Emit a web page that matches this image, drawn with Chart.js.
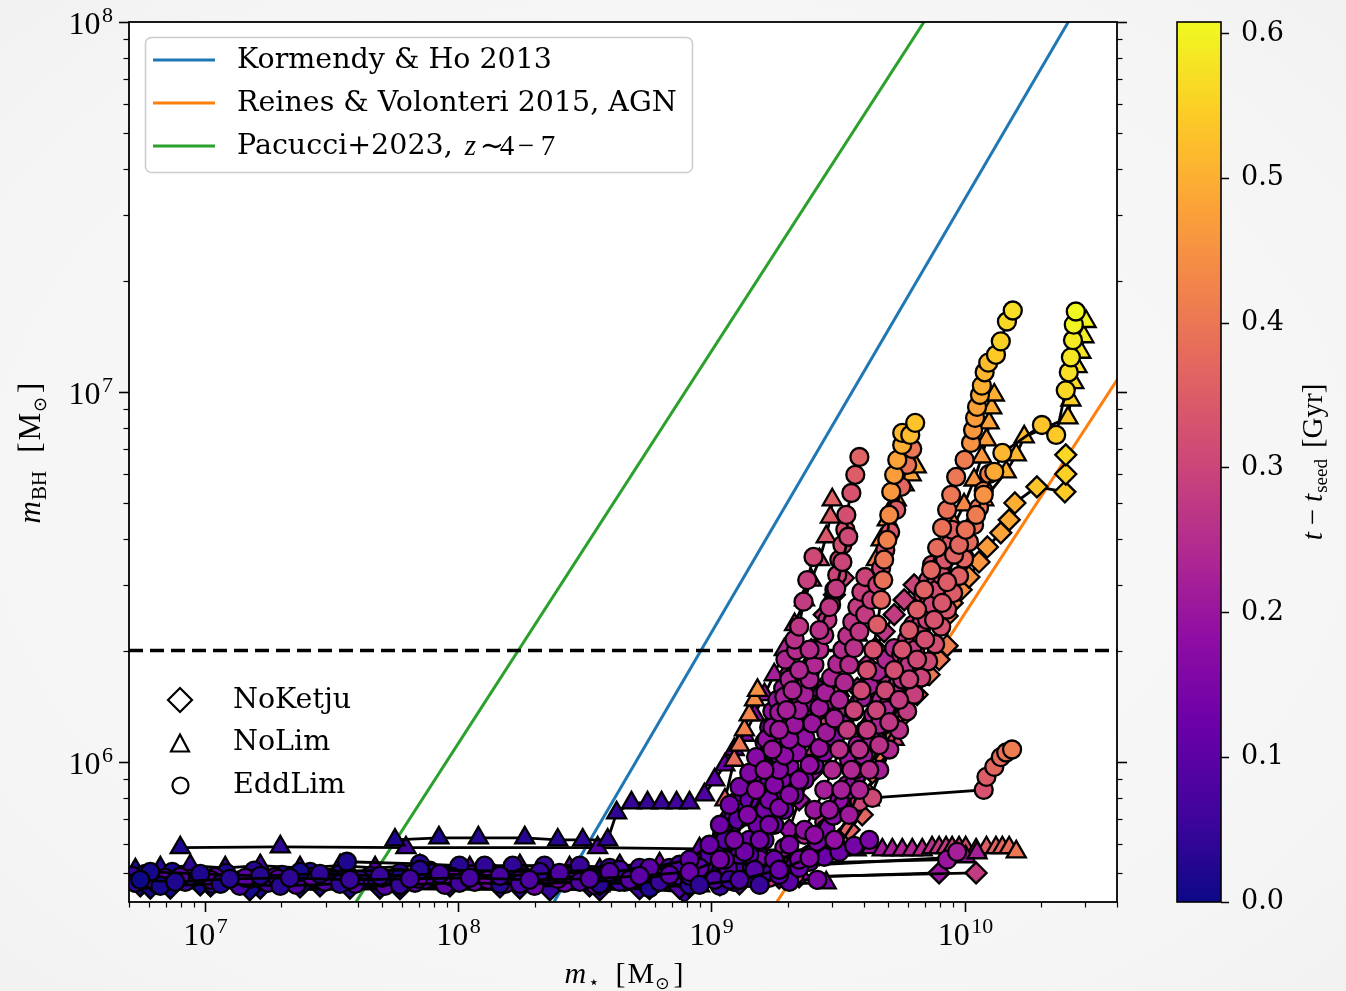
<!DOCTYPE html>
<html>
<head>
<meta charset="utf-8">
<title>Black hole mass vs stellar mass</title>
<script src="https://cdn.jsdelivr.net/npm/chart.js@4.4.1/dist/chart.umd.min.js"></script>
<style>
html,body{margin:0;padding:0;}
body{width:1346px;height:991px;overflow:hidden;background:radial-gradient(ellipse 80% 80% at 50% 50%, #fbfbfb 0%, #f5f5f5 70%, #efefef 100%);}
canvas{position:absolute;left:0;top:0;}
</style>
</head>
<body>
<canvas id="chart" width="1346" height="991"></canvas>
<script>
// ---------------- axes ----------------
const xRange = [5e6, 4e10];
const yRange = [4.18e5, 1e8];
const xMajorTicks = [1e7, 1e8, 1e9, 1e10];
const yMajorTicks = [1e6, 1e7, 1e8];
const colorTicks = [0.0, 0.1, 0.2, 0.3, 0.4, 0.5, 0.6];
const tMax = 0.608;

// ---------------- scaling relations (end points) ----------------
const kormendyX = [1e8, 3e10];
const kormendyY = [1.51e5, 1.20e8];
const reinesX = [1e9, 1e11];
const reinesY = [2.24e5, 2.82e7];
const pacucciX = [1e7, 1e10];
const pacucciY = [9.77e4, 1.48e8];
const thresholdX = [5e6, 4e10];
const thresholdY = [2e6, 2e6];

// ---------------- EddLim (circles) ----------------
const edd1_mstar = [5.54e6, 7.61e6, 1.25e7, 2.16e7, 3.73e7, 6.44e7, 1.11e8, 1.91e8, 3.30e8, 5.20e8, 8.19e8, 1.08e9, 1.23e9, 1.39e9, 1.50e9, 1.62e9, 1.74e9, 1.85e9, 1.98e9, 2.09e9, 2.22e9, 2.44e9, 2.67e9, 2.92e9, 3.11e9, 3.29e9, 3.47e9, 3.41e9, 3.57e9, 3.70e9, 3.84e9];
const edd1_mbh   = [4.80e5, 4.74e5, 4.83e5, 4.86e5, 4.80e5, 4.83e5, 4.86e5, 4.80e5, 4.83e5, 4.92e5, 5.04e5, 5.44e5, 6.15e5, 7.19e5, 8.40e5, 9.51e5, 1.08e6, 1.22e6, 1.38e6, 1.56e6, 1.77e6, 2.01e6, 2.27e6, 2.62e6, 2.94e6, 3.47e6, 4.06e6, 4.65e6, 5.33e6, 5.97e6, 6.67e6];
const edd1_t     = [0.00, 0.02, 0.03, 0.04, 0.05, 0.06, 0.07, 0.08, 0.09, 0.10, 0.12, 0.14, 0.15, 0.16, 0.18, 0.19, 0.20, 0.21, 0.22, 0.23, 0.24, 0.25, 0.26, 0.27, 0.28, 0.30, 0.31, 0.32, 0.33, 0.35, 0.36];

const edd2_mstar = [6.07e6, 9.56e6, 1.65e7, 2.84e7, 4.90e7, 8.45e7, 1.46e8, 2.51e8, 3.96e8, 5.69e8, 8.19e8, 9.82e8, 1.08e9, 1.18e9, 1.29e9, 1.41e9, 1.50e9, 1.65e9, 1.74e9, 1.85e9, 1.94e9, 2.03e9, 1.96e9, 2.16e9, 2.13e9, 2.22e9, 2.31e9, 2.39e9, 2.53e9];
const edd2_mbh   = [5.04e5, 4.98e5, 4.92e5, 4.98e5, 4.92e5, 4.98e5, 4.92e5, 5.01e5, 5.04e5, 5.17e5, 5.44e5, 5.97e5, 6.76e5, 7.65e5, 8.56e5, 9.34e5, 1.03e6, 1.15e6, 1.24e6, 1.36e6, 1.50e6, 1.67e6, 1.89e6, 2.00e6, 2.14e6, 2.32e6, 2.71e6, 3.10e6, 3.58e6];
const edd2_t     = [0.01, 0.02, 0.03, 0.04, 0.05, 0.06, 0.07, 0.08, 0.09, 0.10, 0.11, 0.12, 0.13, 0.14, 0.15, 0.16, 0.17, 0.19, 0.20, 0.21, 0.22, 0.23, 0.24, 0.25, 0.26, 0.27, 0.28, 0.29, 0.31];

const edd3_mstar = [6.65e6, 1.15e7, 1.98e7, 3.41e7, 5.88e7, 1.01e8, 1.75e8, 3.02e8, 4.75e8, 6.83e8, 8.97e8, 1.13e9, 1.35e9, 1.55e9, 1.69e9, 1.85e9, 2.03e9, 2.22e9, 2.44e9, 2.67e9, 2.84e9, 3.06e9, 3.20e9, 3.35e9, 3.50e9, 3.66e9, 3.84e9, 4.05e9, 4.28e9, 4.52e9, 4.68e9, 4.86e9, 5.08e9, 5.37e9, 5.62e9, 5.93e9, 6.21e9];
const edd3_mbh   = [4.62e5, 4.68e5, 4.62e5, 4.68e5, 4.65e5, 4.71e5, 4.68e5, 4.74e5, 4.80e5, 4.95e5, 5.17e5, 5.44e5, 5.71e5, 6.15e5, 6.76e5, 7.51e5, 8.14e5, 8.94e5, 9.81e5, 1.09e6, 1.20e6, 1.31e6, 1.47e6, 1.64e6, 1.83e6, 2.03e6, 2.25e6, 2.50e6, 2.74e6, 3.01e6, 3.34e6, 3.74e6, 4.18e6, 4.80e6, 5.54e6, 6.35e6, 7.01e6];
const edd3_t     = [0.01, 0.02, 0.03, 0.04, 0.05, 0.06, 0.07, 0.08, 0.09, 0.10, 0.11, 0.12, 0.13, 0.14, 0.15, 0.16, 0.17, 0.18, 0.19, 0.20, 0.21, 0.22, 0.23, 0.24, 0.25, 0.26, 0.27, 0.28, 0.29, 0.30, 0.31, 0.32, 0.34, 0.35, 0.37, 0.39, 0.40];

const edd4_mstar = [1.18e9, 1.48e9, 1.77e9, 2.03e9, 2.33e9, 2.55e9, 2.79e9, 3.00e9, 3.20e9, 3.44e9, 3.66e9, 3.91e9, 4.12e9, 4.36e9, 4.52e9, 4.68e9, 4.77e9, 4.81e9, 4.95e9, 5.04e9, 5.13e9, 5.27e9, 5.42e9, 5.67e9, 5.67e9, 6.10e9, 6.38e9];
const edd4_mbh   = [4.80e5, 5.11e5, 5.44e5, 5.97e5, 6.55e5, 7.42e5, 8.40e5, 9.51e5, 1.08e6, 1.22e6, 1.38e6, 1.56e6, 1.77e6, 2.01e6, 2.35e6, 2.74e6, 3.10e6, 3.52e6, 3.98e6, 4.65e6, 5.37e6, 5.97e6, 6.55e6, 7.19e6, 7.75e6, 7.65e6, 8.25e6];
const edd4_t     = [0.06, 0.09, 0.12, 0.15, 0.18, 0.20, 0.22, 0.24, 0.26, 0.28, 0.30, 0.31, 0.32, 0.33, 0.35, 0.37, 0.39, 0.40, 0.42, 0.44, 0.46, 0.47, 0.48, 0.50, 0.51, 0.52, 0.53];

const edd5_mstar = [1.55e9, 1.85e9, 2.22e9, 2.55e9, 2.92e9, 3.26e9, 3.57e9, 3.84e9, 4.12e9, 4.48e9, 4.86e9, 5.27e9, 5.67e9, 6.04e9, 6.49e9, 6.92e9, 7.38e9, 7.79e9, 8.15e9, 8.53e9, 8.85e9, 9.26e9, 1.00e10, 1.06e10, 1.08e10, 1.10e10, 1.12e10, 1.15e10, 1.17e10, 1.20e10, 1.24e10, 1.33e10, 1.39e10, 1.47e10, 1.55e10];
const edd5_mbh   = [4.65e5, 4.95e5, 5.44e5, 6.35e5, 7.42e5, 8.40e5, 9.51e5, 1.08e6, 1.22e6, 1.38e6, 1.56e6, 1.77e6, 2.01e6, 2.27e6, 2.58e6, 2.92e6, 3.30e6, 3.79e6, 4.29e6, 4.80e6, 5.27e6, 5.89e6, 6.55e6, 7.28e6, 7.89e6, 8.51e6, 9.11e6, 9.81e6, 1.04e7, 1.13e7, 1.20e7, 1.26e7, 1.37e7, 1.55e7, 1.66e7];
const edd5_t     = [0.05, 0.10, 0.15, 0.18, 0.20, 0.22, 0.24, 0.26, 0.28, 0.30, 0.31, 0.32, 0.33, 0.34, 0.35, 0.36, 0.37, 0.38, 0.39, 0.39, 0.40, 0.40, 0.41, 0.45, 0.46, 0.47, 0.48, 0.49, 0.50, 0.51, 0.52, 0.54, 0.55, 0.56, 0.57];

const edd6_mstar = [8.97e8, 1.29e9, 1.85e9, 2.44e9, 3.06e9, 3.50e9, 3.84e9, 4.20e9, 4.60e9, 5.04e9, 5.51e9, 6.04e9, 6.49e9, 6.98e9, 7.58e9, 8.15e9, 8.53e9, 9.09e9, 9.51e9, 1.01e10, 1.11e10, 1.19e10, 1.31e10, 1.41e10, 2.02e10, 2.30e10, 2.51e10, 2.58e10, 2.63e10, 2.68e10, 2.70e10, 2.75e10];
const edd6_mbh   = [4.65e5, 4.80e5, 5.11e5, 5.50e5, 6.15e5, 7.19e5, 8.40e5, 9.51e5, 1.11e6, 1.28e6, 1.47e6, 1.67e6, 1.89e6, 2.14e6, 2.42e6, 2.69e6, 3.06e6, 3.63e6, 3.86e6, 4.24e6, 4.65e6, 5.27e6, 6.08e6, 6.84e6, 8.14e6, 7.65e6, 1.01e7, 1.13e7, 1.24e7, 1.38e7, 1.52e7, 1.65e7];
const edd6_t     = [0.04, 0.08, 0.12, 0.16, 0.19, 0.21, 0.23, 0.25, 0.26, 0.27, 0.28, 0.30, 0.31, 0.32, 0.33, 0.34, 0.35, 0.36, 0.37, 0.39, 0.41, 0.45, 0.49, 0.51, 0.53, 0.54, 0.56, 0.57, 0.58, 0.59, 0.60, 0.607];

const edd7_mstar = [5.88e7, 1.46e8, 3.62e8, 7.48e8, 1.18e9, 1.55e9, 1.94e9, 2.33e9, 2.79e9, 3.35e9, 3.84e9, 4.32e9, 1.19e10, 1.22e10, 1.31e10, 1.39e10, 1.46e10, 1.54e10];
const edd7_mbh   = [4.86e5, 4.92e5, 4.86e5, 4.92e5, 5.11e5, 5.44e5, 5.86e5, 6.35e5, 6.88e5, 7.42e5, 7.80e5, 7.99e5, 8.40e5, 9.11e5, 9.69e5, 1.03e6, 1.06e6, 1.08e6];
const edd7_t     = [0.02, 0.04, 0.06, 0.09, 0.12, 0.15, 0.20, 0.24, 0.27, 0.29, 0.30, 0.31, 0.33, 0.35, 0.37, 0.38, 0.39, 0.41];

const edd8_mstar = [2.37e7, 7.05e7, 2.10e8, 4.34e8, 7.48e8, 9.82e8, 1.13e9, 1.27e9, 1.41e9, 1.55e9, 1.69e9, 1.85e9, 2.03e9, 2.22e9, 2.44e9, 2.67e9, 2.92e9];
const edd8_mbh   = [5.04e5, 5.11e5, 5.04e5, 5.11e5, 5.27e5, 5.61e5, 6.15e5, 6.97e5, 7.89e5, 8.67e5, 9.51e5, 1.04e6, 1.13e6, 1.22e6, 1.30e6, 1.38e6, 1.47e6];
const edd8_t     = [0.01, 0.03, 0.05, 0.07, 0.08, 0.09, 0.10, 0.11, 0.12, 0.13, 0.14, 0.15, 0.16, 0.17, 0.18, 0.19, 0.20];

const edd9_mstar = [5.69e8, 8.19e8, 1.03e9, 1.23e9, 1.41e9, 1.62e9, 1.77e9, 1.94e9, 2.13e9, 2.33e9, 2.55e9, 2.79e9, 3.06e9, 3.35e9, 3.66e9, 3.94e9, 4.20e9, 4.52e9, 4.90e9, 5.27e9];
const edd9_mbh   = [4.56e5, 4.65e5, 4.86e5, 5.17e5, 5.61e5, 6.15e5, 6.76e5, 7.42e5, 8.14e5, 8.94e5, 9.81e5, 1.06e6, 1.16e6, 1.26e6, 1.37e6, 1.49e6, 1.61e6, 1.75e6, 1.89e6, 2.03e6];
const edd9_t     = [0.02, 0.04, 0.06, 0.08, 0.10, 0.11, 0.12, 0.13, 0.14, 0.15, 0.16, 0.17, 0.18, 0.19, 0.20, 0.21, 0.22, 0.23, 0.24, 0.25];

const edd10_mstar = [3.62e8, 6.24e8, 8.19e8, 9.38e8, 1.03e9, 1.10e9, 1.18e9, 1.25e9, 1.34e9, 1.44e9, 1.52e9, 1.62e9, 1.69e9, 1.74e9, 1.82e9, 1.92e9, 2.03e9];
const edd10_mbh   = [4.68e5, 4.74e5, 4.92e5, 5.27e5, 5.78e5, 6.35e5, 7.06e5, 7.80e5, 8.50e5, 9.40e5, 1.03e6, 1.13e6, 1.24e6, 1.37e6, 1.47e6, 1.58e6, 1.72e6];
const edd10_t     = [0.03, 0.05, 0.07, 0.09, 0.10, 0.11, 0.12, 0.13, 0.14, 0.15, 0.16, 0.17, 0.18, 0.19, 0.20, 0.21, 0.22];

const edd11_mstar = [1.46e8, 4.34e8, 8.97e8, 1.29e9, 1.69e9, 8.53e9, 9.34e9];
const edd11_mbh   = [4.68e5, 4.74e5, 4.86e5, 5.11e5, 5.30e5, 5.44e5, 5.71e5];
const edd11_t     = [0.03, 0.06, 0.09, 0.12, 0.15, 0.20, 0.22];

const edd12_mstar = [3.62e8, 8.97e8, 2.62e9];
const edd12_mbh   = [4.92e5, 4.80e5, 4.80e5];
const edd12_t     = [0.08, 0.12, 0.15];

const edd13_mstar = [1.29e9, 1.69e9, 2.13e9];
const edd13_mbh   = [4.80e5, 4.86e5, 4.95e5];
const edd13_t     = [0.20, 0.27, 0.33];

const edd14_mstar = [5.15e6, 5.80e6, 6.95e6, 8.73e6, 1.09e7, 1.50e7, 1.89e7];
const edd14_mbh   = [4.92e5, 4.80e5, 4.86e5, 4.83e5, 4.89e5, 4.83e5, 4.89e5];
const edd14_t     = [0.05, 0.07, 0.09, 0.10, 0.11, 0.12, 0.12];

const edd15_mstar = [2.37e7, 3.11e7, 4.09e7, 5.62e7, 7.38e7, 9.69e7, 1.22e8, 1.67e8, 2.19e8, 2.88e8];
const edd15_mbh   = [4.80e5, 4.86e5, 4.80e5, 4.86e5, 4.80e5, 4.86e5, 4.92e5, 4.86e5, 4.89e5, 4.95e5];
const edd15_t     = [0.02, 0.04, 0.06, 0.07, 0.08, 0.09, 0.10, 0.11, 0.12, 0.13];

const edd16_mstar = [3.63e7, 7.05e7, 1.01e8, 1.27e8, 1.64e8, 2.19e8, 3.02e8, 3.96e8, 5.20e8];
const edd16_mbh   = [5.37e5, 5.30e5, 5.24e5, 5.24e5, 5.24e5, 5.24e5, 5.24e5, 5.17e5, 5.17e5];
const edd16_t     = [0.02, 0.03, 0.03, 0.04, 0.04, 0.05, 0.05, 0.06, 0.07];

const edd17_mstar = [5.30e6, 6.53e6, 8.34e6, 1.07e7, 1.37e7, 1.77e7, 2.29e7, 2.97e7, 3.91e7, 5.13e7, 6.74e7, 8.85e7, 1.16e8, 1.53e8, 2.00e8, 2.63e8, 3.46e8, 4.54e8, 5.96e8, 7.82e8, 9.82e8];
const edd17_mbh   = [4.71e5, 4.65e5, 4.74e5, 4.68e5, 4.62e5, 4.71e5, 4.65e5, 4.74e5, 4.68e5, 4.62e5, 4.71e5, 4.65e5, 4.74e5, 4.68e5, 4.62e5, 4.71e5, 4.65e5, 4.74e5, 4.68e5, 4.80e5, 4.98e5];
const edd17_t     = [0.04, 0.05, 0.06, 0.06, 0.07, 0.07, 0.08, 0.08, 0.09, 0.09, 0.10, 0.10, 0.11, 0.11, 0.12, 0.12, 0.13, 0.13, 0.14, 0.15, 0.16];

const edd18_mstar = [5.80e6, 7.41e6, 9.38e6, 1.21e7, 1.56e7, 2.01e7, 2.60e7, 3.41e7, 4.48e7, 5.88e7, 7.72e7, 1.01e8, 1.33e8, 1.75e8, 2.30e8, 3.02e8, 3.96e8, 5.20e8, 6.83e8, 8.97e8];
const edd18_mbh   = [4.98e5, 5.04e5, 4.92e5, 5.01e5, 5.08e5, 4.95e5, 5.04e5, 4.98e5, 4.92e5, 5.01e5, 5.08e5, 4.95e5, 5.04e5, 4.98e5, 4.92e5, 5.01e5, 5.08e5, 5.11e5, 5.17e5, 5.24e5];
const edd18_t     = [0.01, 0.01, 0.02, 0.02, 0.03, 0.03, 0.03, 0.04, 0.04, 0.04, 0.05, 0.05, 0.05, 0.06, 0.06, 0.06, 0.07, 0.07, 0.08, 0.09];

const edd19_mstar = [6.07e6, 7.97e6, 1.05e7, 1.44e7, 1.94e7, 2.64e7, 3.66e7, 4.99e7, 6.92e7, 9.43e7, 1.31e8, 1.78e8, 2.47e8, 3.36e8, 4.66e8, 6.35e8, 8.57e8, 1.13e9, 1.41e9];
const edd19_mbh   = [4.83e5, 4.89e5, 4.80e5, 4.86e5, 4.83e5, 4.89e5, 4.80e5, 4.86e5, 4.83e5, 4.89e5, 4.80e5, 4.86e5, 4.83e5, 4.89e5, 4.80e5, 4.86e5, 4.92e5, 5.11e5, 5.44e5];
const edd19_t     = [0.08, 0.09, 0.09, 0.10, 0.10, 0.11, 0.11, 0.12, 0.12, 0.13, 0.13, 0.14, 0.14, 0.15, 0.15, 0.16, 0.16, 0.17, 0.18];

const edd20_mstar = [1.03e9, 1.16e9, 1.29e9, 1.41e9, 1.52e9, 1.63e9, 1.76e9, 1.89e9, 2.03e9, 2.18e9, 2.35e9, 2.50e9, 2.67e9, 2.82e9, 2.97e9, 3.14e9, 3.29e9, 3.44e9, 3.60e9, 3.77e9, 3.91e9, 4.05e9];
const edd20_mbh   = [4.80e5, 5.17e5, 5.61e5, 6.15e5, 6.76e5, 7.42e5, 8.14e5, 8.94e5, 9.75e5, 1.06e6, 1.16e6, 1.27e6, 1.40e6, 1.54e6, 1.69e6, 1.84e6, 2.01e6, 2.19e6, 2.39e6, 2.62e6, 2.88e6, 3.16e6];
const edd20_t     = [0.08, 0.10, 0.11, 0.12, 0.13, 0.14, 0.15, 0.16, 0.17, 0.18, 0.19, 0.20, 0.21, 0.22, 0.23, 0.24, 0.25, 0.26, 0.27, 0.28, 0.29, 0.30];

const edd21_mstar = [8.97e8, 9.64e8, 1.04e9, 1.10e9, 1.18e9, 1.25e9, 1.34e9, 1.41e9, 1.49e9, 1.57e9, 1.66e9, 1.76e9, 1.85e9, 1.96e9, 2.07e9, 2.18e9, 2.31e9, 2.44e9];
const edd21_mbh   = [4.86e5, 5.24e5, 5.64e5, 6.08e5, 6.55e5, 7.06e5, 7.60e5, 8.19e5, 8.83e5, 9.51e5, 1.03e6, 1.10e6, 1.19e6, 1.28e6, 1.38e6, 1.49e6, 1.61e6, 1.73e6];
const edd21_t     = [0.05, 0.07, 0.08, 0.09, 0.10, 0.11, 0.12, 0.13, 0.14, 0.15, 0.16, 0.17, 0.18, 0.19, 0.20, 0.21, 0.22, 0.23];

const edd22_mstar = [2.03e9, 2.22e9, 2.44e9, 2.62e9, 2.82e9, 3.03e9, 3.26e9, 3.50e9, 3.73e9, 3.98e9, 4.24e9, 4.52e9, 4.81e9, 5.13e9, 5.47e9, 5.83e9, 6.15e9, 6.49e9];
const edd22_mbh   = [4.74e5, 5.17e5, 5.61e5, 6.08e5, 6.59e5, 7.15e5, 7.75e5, 8.40e5, 9.11e5, 9.88e5, 1.07e6, 1.16e6, 1.26e6, 1.37e6, 1.48e6, 1.61e6, 1.74e6, 1.89e6];
const edd22_t     = [0.10, 0.12, 0.14, 0.15, 0.16, 0.17, 0.18, 0.19, 0.20, 0.21, 0.22, 0.23, 0.24, 0.25, 0.26, 0.27, 0.28, 0.29];

const edd23_mstar = [1.08e9, 1.23e9, 1.41e9, 1.62e9, 1.85e9, 2.13e9, 2.44e9, 2.79e9, 3.20e9, 3.66e9, 4.20e9];
const edd23_mbh   = [4.62e5, 4.74e5, 4.86e5, 4.98e5, 5.11e5, 5.24e5, 5.37e5, 5.54e5, 5.71e5, 5.93e5, 6.15e5];
const edd23_t     = [0.05, 0.06, 0.07, 0.08, 0.09, 0.10, 0.11, 0.12, 0.13, 0.14, 0.15];

const edd24_mstar = [1.69e9, 1.77e9, 1.85e9, 1.94e9, 2.03e9, 2.13e9, 2.22e9, 2.33e9, 2.44e9, 2.55e9, 2.67e9, 2.79e9, 2.87e9, 2.97e9, 3.06e9, 3.14e9, 3.20e9, 3.29e9, 3.38e9];
const edd24_mbh   = [7.89e5, 8.67e5, 9.51e5, 1.04e6, 1.15e6, 1.26e6, 1.38e6, 1.52e6, 1.67e6, 1.83e6, 2.01e6, 2.20e6, 2.42e6, 2.66e6, 2.92e6, 3.20e6, 3.52e6, 3.86e6, 4.24e6];
const edd24_t     = [0.15, 0.16, 0.17, 0.18, 0.19, 0.20, 0.21, 0.22, 0.23, 0.24, 0.25, 0.26, 0.27, 0.28, 0.29, 0.30, 0.31, 0.32, 0.33];

const edd25_mstar = [3.20e9, 3.44e9, 3.70e9, 3.98e9, 4.28e9, 4.60e9, 4.95e9, 5.32e9, 5.67e9, 6.04e9, 6.38e9, 6.74e9, 7.11e9, 7.44e9, 7.79e9, 8.08e9, 8.38e9, 8.69e9, 8.93e9];
const edd25_mbh   = [7.89e5, 8.67e5, 9.51e5, 1.04e6, 1.15e6, 1.26e6, 1.38e6, 1.52e6, 1.67e6, 1.83e6, 2.01e6, 2.20e6, 2.42e6, 2.66e6, 2.92e6, 3.20e6, 3.52e6, 3.86e6, 4.24e6];
const edd25_t     = [0.18, 0.19, 0.20, 0.21, 0.22, 0.23, 0.24, 0.25, 0.26, 0.27, 0.28, 0.29, 0.30, 0.31, 0.32, 0.33, 0.34, 0.35, 0.36];

const edd26_mstar = [4.60e9, 5.04e9, 5.51e9, 5.93e9, 6.32e9, 6.74e9, 7.18e9, 7.65e9, 8.08e9, 8.53e9, 9.01e9, 9.51e9, 9.95e9, 1.04e10, 1.09e10, 1.14e10, 1.19e10, 1.25e10];
const edd26_mbh   = [9.51e5, 1.08e6, 1.22e6, 1.37e6, 1.52e6, 1.69e6, 1.87e6, 2.08e6, 2.32e6, 2.58e6, 2.86e6, 3.18e6, 3.54e6, 3.93e6, 4.37e6, 4.86e6, 5.40e6, 6.00e6];
const edd26_t     = [0.22, 0.24, 0.26, 0.28, 0.29, 0.30, 0.31, 0.32, 0.33, 0.34, 0.35, 0.36, 0.37, 0.38, 0.39, 0.40, 0.41, 0.42];

const edd27_mstar = [3.50e9, 3.77e9, 4.05e9, 4.36e9, 4.68e9, 4.99e9, 5.32e9, 5.62e9, 5.93e9, 6.27e9, 6.56e9, 6.86e9, 7.18e9, 7.44e9];
const edd27_mbh   = [1.01e6, 1.11e6, 1.22e6, 1.34e6, 1.47e6, 1.61e6, 1.77e6, 1.95e6, 2.14e6, 2.35e6, 2.58e6, 2.83e6, 3.10e6, 3.41e6];
const edd27_t     = [0.20, 0.21, 0.22, 0.23, 0.24, 0.25, 0.26, 0.27, 0.28, 0.29, 0.30, 0.31, 0.32, 0.33];

// ---------------- NoLim (triangles) ----------------
const nolim1_mstar = [7.97e6, 1.98e7, 6.21e7, 3.55e8, 8.97e8, 1.08e9, 1.55e9, 2.03e9, 2.67e9, 3.20e9, 3.73e9, 4.28e9, 4.73e9, 5.18e9, 5.67e9, 6.21e9, 6.80e9, 7.44e9, 7.93e9, 8.45e9, 8.93e9, 9.51e9, 1.01e10, 1.11e10, 1.22e10, 1.33e10, 1.41e10, 1.50e10, 1.60e10];
const nolim1_mbh   = [5.86e5, 5.89e5, 5.86e5, 5.86e5, 5.82e5, 5.78e5, 5.78e5, 5.78e5, 5.78e5, 5.78e5, 5.78e5, 5.86e5, 5.78e5, 5.78e5, 5.78e5, 5.78e5, 5.78e5, 5.86e5, 5.86e5, 5.86e5, 5.86e5, 5.86e5, 5.86e5, 5.78e5, 5.86e5, 5.86e5, 5.86e5, 5.86e5, 5.71e5];
const nolim1_t     = [0.02, 0.04, 0.06, 0.09, 0.11, 0.12, 0.14, 0.15, 0.17, 0.18, 0.19, 0.20, 0.21, 0.22, 0.23, 0.24, 0.25, 0.26, 0.27, 0.28, 0.29, 0.30, 0.31, 0.33, 0.35, 0.36, 0.37, 0.38, 0.40];

const nolim2_mstar = [5.62e7, 8.38e7, 1.20e8, 1.83e8, 2.47e8, 3.10e8, 3.89e8, 4.22e8, 4.83e8, 5.59e8, 6.35e8, 7.28e8, 8.19e8, 9.38e8, 1.03e9, 1.13e9, 1.23e9, 1.35e9, 1.48e9, 1.62e9, 1.77e9, 1.94e9, 2.13e9, 2.33e9, 2.48e9, 2.67e9, 2.84e9, 2.95e9, 3.00e9];
const nolim2_mbh   = [6.15e5, 6.23e5, 6.23e5, 6.23e5, 6.15e5, 6.15e5, 6.15e5, 7.28e5, 7.75e5, 7.75e5, 7.75e5, 7.75e5, 7.75e5, 8.14e5, 8.94e5, 9.81e5, 1.08e6, 1.18e6, 1.34e6, 1.52e6, 1.72e6, 2.01e6, 2.35e6, 2.74e6, 3.10e6, 3.52e6, 4.06e6, 4.59e6, 5.11e6];
const nolim2_t     = [0.02, 0.02, 0.03, 0.03, 0.03, 0.04, 0.04, 0.04, 0.05, 0.05, 0.05, 0.06, 0.06, 0.08, 0.10, 0.12, 0.14, 0.16, 0.18, 0.20, 0.22, 0.24, 0.26, 0.28, 0.30, 0.32, 0.34, 0.35, 0.36];

const nolim3_mstar = [3.73e7, 1.22e8, 3.62e8, 8.19e8, 1.29e9, 1.69e9, 2.22e9, 2.55e9, 2.87e9, 3.20e9, 3.50e9, 3.77e9, 4.01e9, 4.28e9, 4.48e9, 4.68e9, 4.95e9, 5.37e9, 5.77e9, 6.15e9, 6.44e9];
const nolim3_mbh   = [5.04e5, 5.11e5, 5.11e5, 5.17e5, 5.78e5, 6.97e5, 8.94e5, 1.08e6, 1.30e6, 1.56e6, 1.89e6, 2.20e6, 2.58e6, 3.01e6, 3.52e6, 3.98e6, 4.51e6, 5.11e6, 5.61e6, 5.97e6, 6.27e6];
const nolim3_t     = [0.02, 0.04, 0.06, 0.08, 0.12, 0.18, 0.25, 0.28, 0.30, 0.32, 0.34, 0.36, 0.38, 0.40, 0.42, 0.43, 0.45, 0.46, 0.47, 0.48, 0.49];

const nolim4_mstar = [1.46e8, 5.69e8, 1.18e9, 1.85e9, 2.67e9, 3.35e9, 3.77e9, 4.20e9, 4.81e9, 5.51e9, 6.32e9, 6.92e9, 7.58e9, 8.30e9, 9.09e9, 9.95e9, 1.09e10, 1.17e10, 1.22e10, 1.25e10, 1.28e10, 1.31e10];
const nolim4_mbh   = [4.80e5, 4.86e5, 5.04e5, 5.37e5, 6.15e5, 7.89e5, 1.01e6, 1.30e6, 1.56e6, 1.89e6, 2.27e6, 2.74e6, 3.20e6, 3.74e6, 4.37e6, 4.95e6, 5.78e6, 6.67e6, 7.42e6, 8.25e6, 9.05e6, 9.81e6];
const nolim4_t     = [0.03, 0.06, 0.10, 0.15, 0.20, 0.25, 0.28, 0.30, 0.32, 0.34, 0.36, 0.38, 0.40, 0.41, 0.42, 0.43, 0.45, 0.46, 0.47, 0.48, 0.49, 0.50];

const nolim5_mstar = [3.62e8, 1.08e9, 2.03e9, 3.20e9, 4.20e9, 5.27e9, 6.61e9, 8.30e9, 9.95e9, 1.19e10, 1.46e10, 1.60e10, 1.72e10, 2.56e10, 2.63e10, 2.70e10, 2.78e10, 2.88e10, 2.96e10, 3.02e10];
const nolim5_mbh   = [4.62e5, 4.80e5, 5.17e5, 5.97e5, 7.89e5, 1.15e6, 1.67e6, 2.58e6, 3.74e6, 5.11e6, 6.08e6, 6.76e6, 7.56e6, 8.51e6, 9.51e6, 1.06e7, 1.17e7, 1.28e7, 1.41e7, 1.55e7];
const nolim5_t     = [0.03, 0.07, 0.12, 0.18, 0.24, 0.30, 0.34, 0.38, 0.42, 0.47, 0.50, 0.51, 0.52, 0.54, 0.55, 0.56, 0.57, 0.58, 0.59, 0.60];

const nolim6_mstar = [1.13e9, 1.23e9, 1.29e9, 1.35e9, 1.41e9, 1.48e9, 1.52e9];
const nolim6_mbh   = [7.89e5, 1.01e6, 1.11e6, 1.22e6, 1.34e6, 1.47e6, 1.56e6];
const nolim6_t     = [0.35, 0.38, 0.40, 0.42, 0.43, 0.44, 0.45];

const nolim7_mstar = [5.30e6, 6.65e6, 8.73e6, 1.20e7, 1.65e7, 2.37e7, 3.41e7, 4.69e7, 7.05e7, 1.11e8, 1.75e8, 2.75e8, 4.34e8, 6.24e8];
const nolim7_mbh   = [5.11e5, 5.17e5, 5.24e5, 5.17e5, 5.24e5, 5.17e5, 5.24e5, 5.17e5, 5.24e5, 5.17e5, 5.24e5, 5.17e5, 5.24e5, 5.30e5];
const nolim7_t     = [0.02, 0.03, 0.04, 0.05, 0.06, 0.07, 0.08, 0.09, 0.10, 0.11, 0.12, 0.13, 0.14, 0.15];

const nolim8_mstar = [8.97e8, 1.55e9, 1.01e10, 1.12e10];
const nolim8_mbh   = [5.04e5, 5.17e5, 5.54e5, 5.68e5];
const nolim8_t     = [0.10, 0.14, 0.20, 0.22];

const nolim9_mstar = [8.97e8, 2.84e9];
const nolim9_mbh   = [4.62e5, 4.71e5];
const nolim9_t     = [0.08, 0.14];

const nolim10_mstar = [9.38e8, 1.06e9, 1.18e9, 1.31e9, 1.45e9, 1.59e9, 1.74e9, 1.87e9, 2.09e9, 2.26e9, 2.48e9, 2.69e9];
const nolim10_mbh   = [5.04e5, 5.61e5, 6.23e5, 6.97e5, 7.75e5, 8.61e5, 9.51e5, 1.05e6, 1.16e6, 1.28e6, 1.42e6, 1.56e6];
const nolim10_t     = [0.06, 0.08, 0.10, 0.12, 0.13, 0.14, 0.15, 0.16, 0.17, 0.18, 0.19, 0.20];

// ---------------- NoKetju (diamonds) ----------------
const noketju1_mstar = [9.56e6, 2.37e7, 5.88e7, 1.46e8, 3.62e8, 8.97e8, 1.85e9, 2.67e9, 3.20e9, 3.50e9, 3.94e9, 4.20e9, 4.32e9, 4.60e9, 5.04e9, 5.77e9, 6.49e9, 7.24e9, 7.93e9, 8.53e9, 8.53e9, 8.93e9, 9.69e9, 1.04e10, 1.14e10, 1.23e10, 1.39e10, 1.50e10, 1.58e10, 1.93e10, 2.49e10, 2.51e10, 2.51e10];
const noketju1_mbh   = [4.65e5, 4.59e5, 4.65e5, 4.59e5, 4.65e5, 4.74e5, 5.11e5, 5.61e5, 6.15e5, 6.55e5, 7.19e5, 8.14e5, 9.34e5, 1.06e6, 1.18e6, 1.34e6, 1.52e6, 1.72e6, 1.89e6, 2.06e6, 2.48e6, 2.69e6, 2.92e6, 3.16e6, 3.47e6, 3.81e6, 4.16e6, 4.51e6, 5.01e6, 5.54e6, 5.37e6, 6.00e6, 6.76e6];
const noketju1_t     = [0.01, 0.02, 0.04, 0.06, 0.08, 0.12, 0.20, 0.28, 0.34, 0.36, 0.37, 0.38, 0.39, 0.40, 0.40, 0.40, 0.40, 0.40, 0.40, 0.41, 0.42, 0.43, 0.44, 0.45, 0.46, 0.47, 0.48, 0.49, 0.50, 0.53, 0.54, 0.55, 0.56];

const noketju2_mstar = [1.50e7, 5.88e7, 2.30e8, 7.48e8, 1.55e9, 2.03e9, 2.22e9, 2.55e9, 2.92e9, 3.35e9, 3.77e9, 4.12e9, 4.44e9, 4.81e9, 5.27e9, 5.77e9, 6.32e9];
const noketju2_mbh   = [4.51e5, 4.54e5, 4.51e5, 4.56e5, 4.95e5, 6.55e5, 7.89e5, 9.51e5, 1.15e6, 1.37e6, 1.58e6, 1.83e6, 2.03e6, 2.25e6, 2.50e6, 2.74e6, 3.01e6];
const noketju2_t     = [0.01, 0.03, 0.05, 0.08, 0.14, 0.18, 0.20, 0.21, 0.22, 0.23, 0.24, 0.25, 0.26, 0.27, 0.28, 0.29, 0.30];

const noketju3_mstar = [6.07e6, 3.73e7, 2.30e8, 8.19e8, 1.23e9, 1.41e9, 1.55e9, 1.77e9, 2.03e9, 2.22e9, 2.48e9, 2.79e9, 3.06e9, 3.32e9];
const noketju3_mbh   = [4.56e5, 4.56e5, 4.59e5, 4.62e5, 6.15e5, 7.89e5, 8.94e5, 1.11e6, 1.38e6, 1.67e6, 2.01e6, 2.50e6, 2.83e6, 3.14e6];
const noketju3_t     = [0.01, 0.03, 0.05, 0.08, 0.13, 0.15, 0.17, 0.19, 0.21, 0.23, 0.25, 0.27, 0.28, 0.30];

const noketju4_mstar = [3.62e8, 1.08e9, 1.85e9, 7.93e9];
const noketju4_mbh   = [4.51e5, 4.65e5, 4.86e5, 5.01e5];
const noketju4_t     = [0.05, 0.10, 0.15, 0.20];

const noketju5_mstar = [5.69e8, 1.29e9, 2.22e9, 1.11e10];
const noketju5_mbh   = [4.54e5, 4.68e5, 4.89e5, 5.01e5];
const noketju5_t     = [0.07, 0.12, 0.18, 0.28];

const noketju6_mstar = [5.54e6, 7.28e6, 1.05e7, 1.65e7, 2.84e7, 4.90e7, 9.26e7, 1.75e8, 3.30e8, 5.20e8, 7.82e8];
const noketju6_mbh   = [4.62e5, 4.56e5, 4.62e5, 4.56e5, 4.62e5, 4.56e5, 4.62e5, 4.56e5, 4.62e5, 4.54e5, 4.45e5];
const noketju6_t     = [0.01, 0.01, 0.02, 0.02, 0.03, 0.03, 0.04, 0.04, 0.05, 0.05, 0.06];

const noKetjuTracks = [
  [noketju6_mstar, noketju6_mbh, noketju6_t], [noketju4_mstar, noketju4_mbh, noketju4_t],
  [noketju5_mstar, noketju5_mbh, noketju5_t], [noketju3_mstar, noketju3_mbh, noketju3_t],
  [noketju2_mstar, noketju2_mbh, noketju2_t], [noketju1_mstar, noketju1_mbh, noketju1_t]
];
const noLimTracks = [
  [nolim7_mstar, nolim7_mbh, nolim7_t], [nolim1_mstar, nolim1_mbh, nolim1_t],
  [nolim2_mstar, nolim2_mbh, nolim2_t], [nolim8_mstar, nolim8_mbh, nolim8_t],
  [nolim9_mstar, nolim9_mbh, nolim9_t], [nolim10_mstar, nolim10_mbh, nolim10_t],
  [nolim3_mstar, nolim3_mbh, nolim3_t], [nolim4_mstar, nolim4_mbh, nolim4_t],
  [nolim5_mstar, nolim5_mbh, nolim5_t], [nolim6_mstar, nolim6_mbh, nolim6_t]
];
const eddLimTracks = [
  [edd18_mstar, edd18_mbh, edd18_t], [edd14_mstar, edd14_mbh, edd14_t], [edd15_mstar, edd15_mbh, edd15_t],
  [edd16_mstar, edd16_mbh, edd16_t], [edd17_mstar, edd17_mbh, edd17_t], [edd19_mstar, edd19_mbh, edd19_t],
  [edd11_mstar, edd11_mbh, edd11_t], [edd12_mstar, edd12_mbh, edd12_t], [edd13_mstar, edd13_mbh, edd13_t],
  [edd23_mstar, edd23_mbh, edd23_t], [edd7_mstar, edd7_mbh, edd7_t], [edd9_mstar, edd9_mbh, edd9_t],
  [edd21_mstar, edd21_mbh, edd21_t], [edd10_mstar, edd10_mbh, edd10_t], [edd8_mstar, edd8_mbh, edd8_t],
  [edd22_mstar, edd22_mbh, edd22_t], [edd27_mstar, edd27_mbh, edd27_t], [edd20_mstar, edd20_mbh, edd20_t],
  [edd25_mstar, edd25_mbh, edd25_t], [edd26_mstar, edd26_mbh, edd26_t],
  [edd24_mstar, edd24_mbh, edd24_t], [edd3_mstar, edd3_mbh, edd3_t], [edd2_mstar, edd2_mbh, edd2_t],
  [edd1_mstar, edd1_mbh, edd1_t], [edd4_mstar, edd4_mbh, edd4_t], [edd5_mstar, edd5_mbh, edd5_t],
  [edd6_mstar, edd6_mbh, edd6_t]
];

// ---------------- colour map (plasma) ----------------
const PLASMA = ['#0d0887','#41049d','#6a00a8','#8f0da4','#b12a90','#cc4778','#e16462','#f2844b','#fca636','#fcce25','#f0f921'];
const PL = PLASMA.map(h => [parseInt(h.slice(1,3),16), parseInt(h.slice(3,5),16), parseInt(h.slice(5,7),16)]);
function plasma(f) {
  f = Math.max(0, Math.min(1, f));
  const s = f * 10, i = Math.min(9, Math.floor(s)), u = s - i, a = PL[i], b = PL[i+1];
  return 'rgb(' + Math.round(a[0]+(b[0]-a[0])*u) + ',' + Math.round(a[1]+(b[1]-a[1])*u) + ',' + Math.round(a[2]+(b[2]-a[2])*u) + ')';
}

// ---------------- datasets ----------------
function pairs(xs, ys) { const n = Math.min(xs.length, ys.length); const d = []; for (let i = 0; i < n; i++) d.push({x: xs[i], y: ys[i]}); return d; }
function trackDataset(label, tr, style, r) {
  const [ms, mbh, t] = tr;
  const data = pairs(ms, mbh);
  return {
    label, data, showLine: true, borderColor: '#000', borderWidth: 2.8, tension: 0,
    pointStyle: style, pointRadius: r, pointHoverRadius: r, pointBorderColor: '#000', pointBorderWidth: 2.3,
    pointBackgroundColor: data.map((_, i) => plasma(t[i] / tMax)), backgroundColor: '#000'
  };
}
function relDataset(label, xs, ys, color, dash) {
  return { label, data: pairs(xs, ys), showLine: true, borderColor: color, backgroundColor: color,
    borderWidth: dash ? 3.5 : 3, borderDash: dash || [], pointRadius: 0, pointHoverRadius: 0, tension: 0, isRelation: !dash };
}

const datasets = [];
datasets.push(relDataset('Kormendy & Ho 2013', kormendyX, kormendyY, '#1f77b4'));
datasets.push(relDataset('Reines & Volonteri 2015, AGN', reinesX, reinesY, '#ff7f0e'));
datasets.push(relDataset('Pacucci+2023, z\u223C4\u22127', pacucciX, pacucciY, '#2ca02c'));
datasets.push(relDataset('threshold', thresholdX, thresholdY, '#000', [14, 7]));
noKetjuTracks.forEach((tr, i) => datasets.push(trackDataset('NoKetju ' + (i+1), tr, 'rectRot', 10.5)));
noLimTracks.forEach((tr, i) => datasets.push(trackDataset('NoLim ' + (i+1), tr, 'triangle', 11)));
eddLimTracks.forEach((tr, i) => datasets.push(trackDataset('EddLim ' + (i+1), tr, 'circle', 9)));
datasets.forEach((d, i) => { d.order = datasets.length - i; });

// ---------------- ticks ----------------
function logTicksFor(majors) {
  return function(scale) {
    const ticks = [];
    const lo = Math.floor(Math.log10(scale.min)), hi = Math.ceil(Math.log10(scale.max));
    for (let e = lo; e <= hi; e++) {
      for (let m = 1; m <= 9; m++) {
        const v = m * Math.pow(10, e);
        if (v >= scale.min * 0.9999 && v <= scale.max * 1.0001) ticks.push({value: v, isMajor: majors.some(M => Math.abs(M - v) / M < 1e-6)});
      }
    }
    scale.ticks = ticks;
  };
}
function zeroPad(s) { s.paddingTop = 0; s.paddingBottom = 0; s.paddingLeft = 0; s.paddingRight = 0; }

// ---------------- drawing helpers ----------------
function richWidth(ctx, segs) { let w = 0; segs.forEach(s => { ctx.font = s.f; s.w = ctx.measureText(s.t).width; w += s.w + (s.gap || 0); }); return w; }
function drawRich(ctx, segs, x, y, align) {
  const w = richWidth(ctx, segs);
  let cx = align === 'center' ? x - w / 2 : x;
  segs.forEach(s => { cx += (s.gap || 0); ctx.font = s.f; ctx.fillText(s.t, cx, y + (s.dy || 0)); cx += s.w; });
}
const MF = '"Liberation Serif", "DejaVu Serif", serif';
const TF = '"DejaVu Serif", serif';
function drawPow(ctx, exp, x, y, align) {
  const base = '10', sup = String(exp);
  ctx.font = '32px ' + MF; const wb = ctx.measureText(base).width;
  ctx.font = '22px ' + MF; const ws = ctx.measureText(sup).width;
  const total = wb + 1.5 + ws;
  const x0 = align === 'center' ? x - total / 2 : x - total;
  ctx.textAlign = 'left'; ctx.textBaseline = 'alphabetic';
  ctx.font = '32px ' + MF; ctx.fillText(base, x0, y);
  ctx.font = '22px ' + MF; ctx.fillText(sup, x0 + wb + 1.5, y - 12);
}

const decor = {
  id: 'decor',
  beforeDraw(chart) {
    const {ctx, chartArea: a} = chart;
    ctx.save(); ctx.fillStyle = '#ffffff'; ctx.fillRect(a.left, a.top, a.right - a.left, a.bottom - a.top); ctx.restore();
  },
  afterDraw(chart) {
    const {ctx, chartArea: a, scales} = chart;
    ctx.save();
    ctx.strokeStyle = '#000'; ctx.fillStyle = '#000';
    // tick marks and labels
    const xs = scales.x, ys = scales.y;
    xs.ticks.forEach(tk => {
      const p = Math.round(xs.getPixelForValue(tk.value)) + 0.5; const L = tk.isMajor ? 10 : 5.5;
      ctx.lineWidth = tk.isMajor ? 1.6 : 1.2; ctx.beginPath(); ctx.moveTo(p, a.bottom); ctx.lineTo(p, a.bottom + L); ctx.stroke();
      if (tk.isMajor) drawPow(ctx, Math.round(Math.log10(tk.value)), p, a.bottom + 43, 'center');
    });
    ys.ticks.forEach(tk => {
      const p = Math.round(ys.getPixelForValue(tk.value)) + 0.5; const L = tk.isMajor ? 10 : 5.5;
      ctx.lineWidth = tk.isMajor ? 1.6 : 1.2;
      ctx.beginPath(); ctx.moveTo(a.left - L, p); ctx.lineTo(a.left, p); ctx.stroke();
      ctx.beginPath(); ctx.moveTo(a.right, p); ctx.lineTo(a.right + L, p); ctx.stroke();
      if (tk.isMajor) drawPow(ctx, Math.round(Math.log10(tk.value)), a.left - 16, p + 11, 'right');
    });
    // frame
    ctx.lineWidth = 1.8; ctx.strokeRect(a.left, a.top, a.right - a.left, a.bottom - a.top);

    // colour bar
    const cb = scales.cb; const cw = 44, cx0 = cb.left - cw;
    for (let py = Math.floor(cb.top); py < Math.ceil(cb.bottom); py++) {
      const v = cb.getValueForPixel(py + 0.5); ctx.fillStyle = plasma(v / tMax); ctx.fillRect(cx0, py, cw, 1);
    }
    ctx.lineWidth = 1.6; ctx.strokeStyle = '#000'; ctx.strokeRect(cx0, cb.top, cw, cb.bottom - cb.top);
    ctx.fillStyle = '#000';

    // relation legend
    ctx.beginPath(); ctx.roundRect(145.5, 37.5, 547, 135, 6);
    ctx.fillStyle = 'rgba(255,255,255,0.8)'; ctx.fill(); ctx.lineWidth = 1.5; ctx.strokeStyle = '#cccccc'; ctx.stroke();
    const rel = chart.data.datasets.filter(d => d.isRelation);
    const rowsY = [60, 103, 146];
    ctx.textBaseline = 'middle'; ctx.textAlign = 'left';
    rel.forEach((d, i) => {
      const y = rowsY[i];
      ctx.strokeStyle = d.borderColor; ctx.lineWidth = 3; ctx.beginPath(); ctx.moveTo(153, y); ctx.lineTo(215, y); ctx.stroke();
      ctx.fillStyle = '#000';
      if (i === 2) {
        const head = 'Pacucci+2023,';
        ctx.font = '28.5px ' + TF; ctx.fillText(head, 237, y + 1);
        const x0 = 237 + ctx.measureText(head).width + 12;
        ctx.font = 'italic 29px ' + MF; ctx.fillText('z', x0, y + 1);
        ctx.font = '29px ' + MF;
        ctx.fillText('\u223C', x0 + 15, y + 1);
        ctx.fillText('4', x0 + 35, y + 1);
        ctx.fillText('\u2212', x0 + 53, y + 1);
        ctx.fillText('7', x0 + 76, y + 1);
      } else {
        ctx.font = '28.5px ' + TF; ctx.fillText(d.label, 237, y + 1);
      }
    });

    // marker legend
    ctx.strokeStyle = '#000'; ctx.lineWidth = 2.2; ctx.fillStyle = '#000';
    ctx.beginPath(); ctx.moveTo(180, 688); ctx.lineTo(192, 700); ctx.lineTo(180, 712); ctx.lineTo(168, 700); ctx.closePath(); ctx.stroke();
    ctx.beginPath(); ctx.moveTo(180, 734.5); ctx.lineTo(189, 751.5); ctx.lineTo(171, 751.5); ctx.closePath(); ctx.stroke();
    ctx.beginPath(); ctx.arc(180.5, 785.5, 8, 0, Math.PI * 2); ctx.stroke();
    ctx.font = '28.5px ' + TF; ctx.textBaseline = 'middle';
    ctx.fillText('NoKetju', 233, 701); ctx.fillText('NoLim', 233, 743); ctx.fillText('EddLim', 233, 786);

    // axis titles
    ctx.textBaseline = 'alphabetic'; ctx.fillStyle = '#000';
    const xt = [
      {t: 'm', f: 'italic 30px ' + MF},
      {t: '\u22C6', f: '18px "DejaVu Sans"', dy: 5, gap: 2},
      {t: '[', f: '30px ' + MF, gap: 16},
      {t: 'M', f: '30px ' + MF, gap: 2},
      {t: '\u2299', f: '17px "DejaVu Sans"', dy: 6, gap: 1},
      {t: ']', f: '30px ' + MF, gap: 4}
    ];
    drawRich(ctx, xt, 624, 983, 'center');
    ctx.save(); ctx.translate(40, 453); ctx.rotate(-Math.PI / 2);
    const yt = [
      {t: 'm', f: 'italic 31px ' + MF},
      {t: 'BH', f: '21px ' + MF, dy: 6, gap: 1},
      {t: '[', f: '31px ' + MF, gap: 18},
      {t: 'M', f: '31px ' + MF, gap: 2},
      {t: '\u2299', f: '18px "DejaVu Sans"', dy: 6, gap: 1},
      {t: ']', f: '31px ' + MF, gap: 4}
    ];
    drawRich(ctx, yt, 0, 0, 'center');
    ctx.restore();
    ctx.save(); ctx.translate(1322, 462); ctx.rotate(-Math.PI / 2);
    const ct = [
      {t: 't', f: 'italic 29px ' + MF},
      {t: '\u2212', f: '29px ' + MF, gap: 7},
      {t: 't', f: 'italic 29px ' + MF, gap: 7},
      {t: 'seed', f: '19px ' + MF, dy: 5, gap: 1},
      {t: '[Gyr]', f: '29px ' + MF, gap: 11}
    ];
    drawRich(ctx, ct, 0, 0, 'center');
    ctx.restore();
    ctx.restore();
  }
};

// ---------------- chart ----------------
new Chart(document.getElementById('chart'), {
  type: 'scatter',
  data: { datasets },
  options: {
    responsive: false, animation: false, devicePixelRatio: 1,
    layout: { padding: { top: 22, left: 0, right: 0, bottom: 0 } },
    plugins: { legend: { display: false }, tooltip: { enabled: false } },
    events: [],
    scales: {
      x: {
        type: 'logarithmic', position: 'bottom', min: xRange[0], max: xRange[1],
        afterBuildTicks: logTicksFor(xMajorTicks), afterFit(s) { s.height = 89; zeroPad(s); },
        grid: { display: false }, border: { display: false }, ticks: { display: false }
      },
      y: {
        type: 'logarithmic', position: 'left', min: yRange[0], max: yRange[1],
        afterBuildTicks: logTicksFor(yMajorTicks), afterFit(s) { s.width = 129; zeroPad(s); },
        grid: { display: false }, border: { display: false }, ticks: { display: false }
      },
      yr: {
        type: 'logarithmic', position: 'right', min: yRange[0], max: yRange[1], weight: 0,
        afterFit(s) { s.width = 104; zeroPad(s); },
        grid: { display: false }, border: { display: false }, ticks: { display: false }
      },
      cb: {
        type: 'linear', position: 'right', min: 0, max: tMax, weight: 1,
        afterFit(s) { s.width = 125; zeroPad(s); },
        afterBuildTicks(s) { s.ticks = colorTicks.map(v => ({ value: v })); },
        grid: { display: true, drawOnChartArea: false, drawTicks: true, tickLength: 8, tickWidth: 1.5, tickColor: '#000' },
        border: { display: false },
        ticks: { padding: 12, color: '#000', font: { family: 'DejaVu Serif', size: 27 }, callback: v => v.toFixed(1) }
      }
    }
  },
  plugins: [decor]
});
</script>
</body>
</html>
